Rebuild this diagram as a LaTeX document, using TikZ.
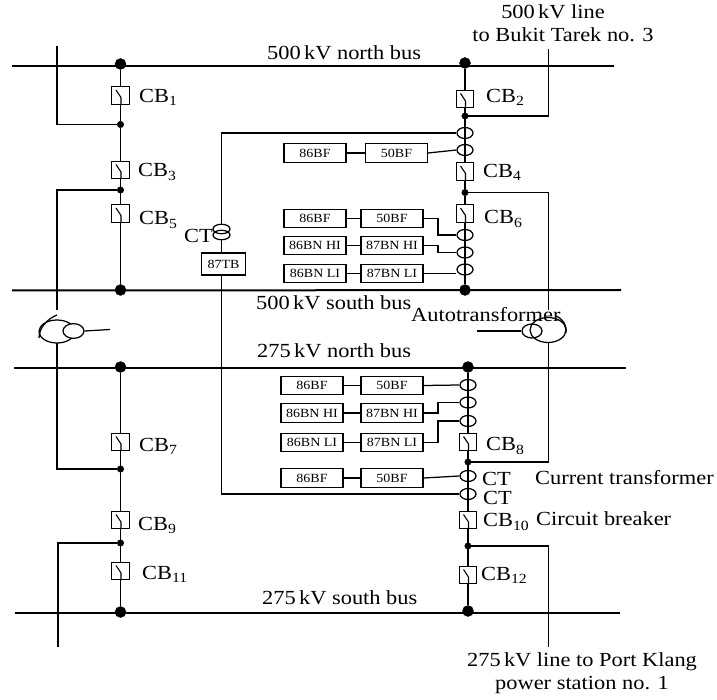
\documentclass[tikz,border=0pt]{standalone}
\usepackage{fontspec}
\setmainfont[FakeStretch=1.12]{Liberation Serif}
\usetikzlibrary{positioning,calc,shapes}
\tikzset{
  wire/.style   ={line width=1.25pt},
  busbar/.style ={line width=2pt},
  bigdot/.style ={draw,circle,fill=black,inner sep=0pt,minimum size=11pt},
  smalldot/.style={draw,circle,fill=black,inner sep=0pt,minimum size=6.5pt},
  breaker/.style={draw,rectangle,fill=white,line width=1.25pt,inner sep=0pt,minimum size=17.5pt,
                  path picture={
                    \draw[line width=1.1pt] ([shift={(-4.5pt,5.5pt)}]path picture bounding box.center)
                       -- ([shift={(0.5pt,-2pt)}]path picture bounding box.center)
                       -- ([shift={(0.5pt,-9pt)}]path picture bounding box.center);}},
  ring/.style   ={draw,ellipse,line width=1.25pt,inner sep=0pt,minimum width=16pt,minimum height=11pt},
  relay/.style  ={draw,rectangle,line width=1.25pt,inner sep=0pt,minimum width=62pt,minimum height=18.5pt,
                  font=\fontsize{12.5}{14}\selectfont},
  lab/.style    ={font=\fontsize{20}{22}\selectfont,inner sep=0pt,anchor=west},
  ctrlab/.style ={font=\fontsize{20}{23}\selectfont,inner sep=0pt,align=center}
}

\begin{document}
\begin{tikzpicture}[x=1pt,y=-1pt]
\useasboundingbox (0,0) rectangle (717,700);

% buses
\coordinate (nbL) at (12,66.5);  \coordinate (nbR) at (614,66.5);
\coordinate (sbL) at (12,290.5); \coordinate (sbR) at (621,290);
\coordinate (ntL) at (14,367.5); \coordinate (ntR) at (626,367.5);
\coordinate (stL) at (15,612.5); \coordinate (stR) at (620,612.5);
\draw[busbar] (nbL) -- (nbR);
\draw[busbar] (sbL) -- (sbR);
\draw[busbar] (ntL) -- (ntR);
\draw[busbar] (stL) -- (stR);

\node[lab] (nbT) at (267,53)  {500\,kV north bus};
\node[lab] (sbT) at (256,303) {500\,kV south bus};
\node[lab] (ntT) at (257,351) {275\,kV north bus};
\node[lab] (stT) at (262,598) {275\,kV south bus};

% left column
\def\colL{120.5}
\node[bigdot]   (dA) at (\colL,64)  {};
\node[breaker]  (cb1) at (\colL,95.5) {};
\node[smalldot] (jA) at (\colL,124.5) {};
\node[breaker]  (cb3) at (\colL,170) {};
\node[smalldot] (jB) at (\colL,190) {};
\node[breaker]  (cb5) at (\colL,213.5) {};
\node[bigdot]   (dB) at (\colL,290) {};
\node[bigdot]   (dC) at (\colL,367) {};
\node[breaker]  (cb7) at (\colL,442) {};
\node[smalldot] (jC) at (\colL,469) {};
\node[breaker]  (cb9) at (\colL,520) {};
\node[smalldot] (jD) at (\colL,543) {};
\node[breaker]  (cb11) at (\colL,571) {};
\node[bigdot]   (dD) at (\colL,612) {};

\draw[wire] (dA) -- (cb1) -- (jA) -- (cb3) -- (jB) -- (cb5) -- (dB);
\draw[wire] (dC) -- (cb7) -- (jC) -- (cb9) -- (jD) -- (cb11) -- (dD);

\node[lab] at (139,97)  {CB\textsubscript{1}};
\node[lab] at (138,172) {CB\textsubscript{3}};
\node[lab] at (139,220) {CB\textsubscript{5}};
\node[lab] at (139,446) {CB\textsubscript{7}};
\node[lab] at (138,525) {CB\textsubscript{9}};
\node[lab] at (142,574) {CB\textsubscript{11}};

% right column
\def\colR{465}
\def\colS{468}
\node[bigdot]   (dE) at (\colR,63)  {};
\node[breaker]  (cb2) at (\colR,99) {};
\node[smalldot] (jE) at (\colR,116) {};
\node[ring]     (rA) at (\colR,133) {};
\node[ring]     (rB) at (\colR,150) {};
\node[breaker]  (cb4) at (\colR,171.5) {};
\node[smalldot] (jF) at (\colR,192.5) {};
\node[breaker]  (cb6) at (\colR,213.5) {};
\node[ring]     (rC) at (\colR,235) {};
\node[ring]     (rD) at (\colR,252.5) {};
\node[ring]     (rE) at (\colR,269.5) {};
\node[bigdot]   (dF) at (\colR,290) {};
\node[bigdot]   (dG) at (\colS,367) {};
\node[ring]     (rF) at (\colS,385) {};
\node[ring]     (rG) at (\colS,402.5) {};
\node[ring]     (rH) at (\colS,421) {};
\node[breaker]  (cb8) at (\colS,442) {};
\node[smalldot] (jG) at (\colS,462) {};
\node[ring]     (rI) at (\colS,476) {};
\node[ring]     (rJ) at (\colS,494) {};
\node[breaker]  (cb10) at (\colS,520) {};
\node[smalldot] (jH) at (\colS,546) {};
\node[breaker]  (cb12) at (\colS,575) {};
\node[bigdot]   (dH) at (\colS,611) {};

\draw[wire] (dE) -- (cb2) -- (jE) -- (cb4) -- (jF) -- (cb6) -- (dF);
\draw[wire] (dG) -- (cb8) -- (jG) -- (cb10) -- (jH) -- (cb12) -- (dH);

\node[lab] at (486,97)  {CB\textsubscript{2}};
\node[lab] at (483,172) {CB\textsubscript{4}};
\node[lab] at (484,219) {CB\textsubscript{6}};
\node[lab] at (486,446) {CB\textsubscript{8}};
\node[lab] at (483,522) {CB\textsubscript{10}};
\node[lab] at (481,575) {CB\textsubscript{12}};

% relay boxes
\node[relay] (fA) at (315,153)   {86BF};
\node[relay] (gA) at (396.5,153) {50BF};
\node[relay] (fB) at (315,218.5) {86BF};
\node[relay] (gB) at (392,218.5) {50BF};
\node[relay] (fC) at (315,245.5) {86BN HI};
\node[relay] (gC) at (392,245.5) {87BN HI};
\node[relay] (fD) at (315,273.5) {86BN LI};
\node[relay] (gD) at (392,273.5) {87BN LI};
\node[relay] (fE) at (312,385.5) {86BF};
\node[relay] (gE) at (392,385.5) {50BF};
\node[relay] (fF) at (312,413)   {86BN HI};
\node[relay] (gF) at (392,413)   {87BN HI};
\node[relay] (fG) at (312,442.5) {86BN LI};
\node[relay] (gG) at (392,442.5) {87BN LI};
\node[relay] (fH) at (312,478)   {86BF};
\node[relay] (gH) at (392,478)   {50BF};

\draw[wire] (fA) -- (gA);
\draw[wire] (fB) -- (gB);
\draw[wire] (fC) -- (gC);
\draw[wire] (fD) -- (gD);
\draw[wire] (fE) -- (gE);
\draw[wire] (fF) -- (gF);
\draw[wire] (fG) -- (gG);
\draw[wire] (fH) -- (gH);

\draw[wire] (gA.east) -- (rB.west);
\draw[wire] (gB.east) -- (438,218.5) |- (rC.west);
\draw[wire] (gC.east) -- (438,245.5) |- (rD.west);
\draw[wire] (gD.east) -- (gD.east -| rE.west);
\draw[wire] (gE.east) -- (rF.west);
\draw[wire] (gF.east) -- (438,413) |- (rG.west);
\draw[wire] (gG.east) -- (438,442.5) |- (rH.west);
\draw[wire] (gH.east) -- (rI.west);

% bus differential
\node[draw,ellipse,line width=1.25pt,inner sep=0pt,minimum width=17pt,minimum height=9.5pt] (ctU) at (221.5,229) {};
\node[draw,ellipse,line width=1.25pt,inner sep=0pt,minimum width=17pt,minimum height=9.5pt] (ctD) at (221.5,235) {};
\node[relay,minimum width=43.5pt,minimum height=22pt] (tb) at (223.5,264) {87TB};
\node[lab] at (184,236) {CT};
\draw[wire] (rA.west) -| (ctU.north);
\draw[wire] (ctD.south) -- (ctD.south |- tb.north);
\draw[wire] (ctD.south |- tb.south) |- (rJ.west);

% feeder branches, left
\coordinate (feA) at (57,46);
\coordinate (feB) at (57,310);
\coordinate (feC) at (57,343);
\coordinate (feD) at (58,647);
\draw[wire] (feA) |- (jA);
\draw[wire] (feB) |- (jB);
\draw[wire] (feC) |- (jC);
\draw[wire] (feD) |- (jD);

% feeder branches, right
\coordinate (feE) at (548.5,49);
\coordinate (feF) at (548.5,310);
\coordinate (feG) at (548.5,343);
\coordinate (feH) at (548.5,647);
\draw[wire] (feE) |- (jE);
\draw[wire] (feF) |- (jF);
\draw[wire] (feG) |- (jG);
\draw[wire] (feH) |- (jH);

% autotransformers
\node[draw,ellipse,line width=1.25pt,inner sep=0pt,minimum width=36pt,minimum height=23pt] (atL) at (57,331.5) {};
\node[draw,circle,fill=white,line width=1.25pt,inner sep=0pt,minimum width=21pt,yscale=0.7] (atLs) at (73.5,331) {};
\coordinate (tyL) at (110,329.5);
\draw[wire] (atLs.east) -- (tyL);
\draw[wire] (57,315) .. controls (47,319) and (39,328) .. (39,338);

\node[draw,ellipse,line width=1.25pt,inner sep=0pt,minimum width=36pt,minimum height=25pt] (atR) at (548,330) {};
\node[draw,circle,line width=1.25pt,inner sep=0pt,minimum width=20pt,yscale=0.7] (atRs) at (532,331) {};
\coordinate (tyR) at (477,331);
\draw[wire] (atRs.west) -- (tyR);
\draw[wire] (556,316) .. controls (563,319) and (567,325) .. (566,333);

% texts
\node[lab] at (411,315) {Autotransformer};
\node[lab] at (482,479) {CT};
\node[lab] at (483,498) {CT};
\node[lab] at (535,478) {Current transformer};
\node[lab] at (536,519) {Circuit breaker};
\node[ctrlab] at (563,23)  {500\,kV line\hspace*{20pt}\\to Bukit Tarek no. 3};
\node[ctrlab] at (582,673) {275\,kV line to Port Klang\\power station no. 1};

\end{tikzpicture}
\end{document}
